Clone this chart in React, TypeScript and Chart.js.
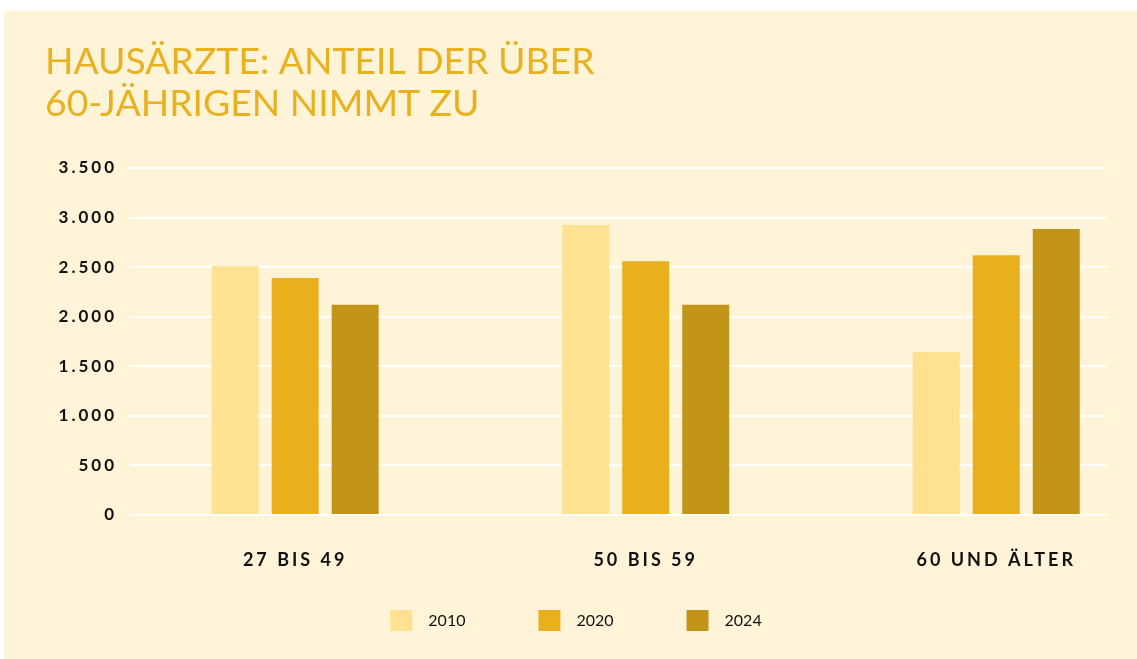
import React, { useEffect, useRef } from 'react';
import { Chart, registerables } from 'chart.js';

Chart.register(...registerables);

const titleLines = ['HAUSÄRZTE: ANTEIL DER ÜBER', '60-JÄHRIGEN NIMMT ZU'];
const categories = ['27 BIS 49', '50 BIS 59', '60 UND ÄLTER'];
const seriesLabels = ['2010', '2020', '2024'];
const values2010 = [2510, 2925, 1645];
const values2020 = [2390, 2560, 2620];
const values2024 = [2120, 2120, 2885];
const yTickMin = 0;
const yTickMax = 3500;
const yTickStep = 500;

const seriesColors = ['#FEE291', '#E8B01C', '#C29418'];
const CREAM = '#FFF3D8';
const TITLE_COLOR = '#E9B11E';
const TEXT = '#111111';

const formatDE = (v: number) => String(v).replace(/\B(?=(\d{3})+(?!\d))/g, '.');

const tickSpacing: Record<string, string> = { x: '3px', y: '3px' };

const letterSpacingPlugin = {
  id: 'tickLetterSpacing',
  beforeDraw(chart: any) {
    ['x', 'y'].forEach((id) => {
      const s: any = chart.scales[id];
      if (s && !s.__lsPatched) {
        const orig = s.drawLabels.bind(s);
        s.drawLabels = (area: any) => {
          const ctx = chart.ctx;
          ctx.save();
          ctx.letterSpacing = tickSpacing[id];
          orig(area);
          ctx.restore();
        };
        // labels sit below the (compact) axis box: don't clip them to it
        s._computeLabelArea = () => undefined;
        s.__lsPatched = true;
      }
    });
  },
};

export default function App() {
  const ref = useRef<HTMLCanvasElement | null>(null);

  useEffect(() => {
    if (!ref.current) return;
    Chart.defaults.font.family = 'Lato';
    const seriesValues = [values2010, values2020, values2024];
    const chart = new Chart(ref.current, {
      type: 'bar',
      data: {
        datasets: seriesValues.map((vals, i) => ({
          label: seriesLabels[i],
          data: vals.map((v, j) => ({ x: j, y: v })),
          backgroundColor: seriesColors[i],
          borderWidth: 0,
          categoryPercentage: 0.5136,
          barPercentage: 0.783,
        })),
      },
      options: {
        responsive: false,
        animation: false,
        events: [],
        layout: { padding: { left: 41, right: 30, top: 0, bottom: 18 } },
        plugins: {
          title: {
            display: true,
            text: titleLines,
            align: 'start',
            color: TITLE_COLOR,
            font: { family: 'Lato', size: 37.3, weight: 'normal', lineHeight: 42 / 37.3 },
            padding: { top: 30, bottom: 43 },
          },
          legend: {
            display: true,
            position: 'bottom',
            align: 'center',
            labels: {
              boxWidth: 22,
              boxHeight: 21,
              padding: 73,
              color: TEXT,
              font: { family: 'Lato', size: 16, weight: 'normal' },
              generateLabels: (c: any) =>
                (Chart.defaults.plugins.legend.labels as any)
                  .generateLabels(c)
                  .map((l: any) => ({ ...l, text: '\u2002' + l.text, lineWidth: 0 })),
            },
          },
          tooltip: { enabled: false },
        },
        scales: {
          x: {
            type: 'linear',
            offset: false,
            bounds: 'data',
            min: -0.4713,
            max: 2.316,
            afterBuildTicks: (s: any) => {
              s.ticks = categories.map((_, i) => ({ value: i }));
            },
            afterFit: (s: any) => {
              s.height = 22;
            },
            grid: { display: false },
            border: { display: false },
            ticks: {
              autoSkip: false,
              maxRotation: 0,
              padding: 26,
              color: TEXT,
              font: { family: 'Lato', size: 18, weight: 'bold' },
              callback: (v: any) => categories[Math.round(Number(v))] ?? '',
            },
          },
          y: {
            min: yTickMin,
            max: yTickMax,
            afterFit: (s: any) => {
              s.width = 85;
            },
            grid: { color: '#FFFFFF', lineWidth: 2, drawTicks: false },
            border: { display: false },
            ticks: {
              stepSize: yTickStep,
              padding: 13,
              color: TEXT,
              font: { family: 'Lato', size: 17, weight: 'bold' },
              callback: (v: any) => formatDE(Number(v)),
            },
          },
        },
      } as any,
      plugins: [letterSpacingPlugin],
    });
    return () => chart.destroy();
  }, []);

  return (
    <div style={{ position: 'fixed', left: 0, top: 0, width: 1137, height: 659, background: '#FFFFFF' }}>
      <div style={{ position: 'absolute', left: 4, top: 11, width: 1133, height: 648, background: CREAM }}>
        <canvas ref={ref} width={1133} height={648} style={{ display: 'block', width: 1133, height: 648 }} />
      </div>
    </div>
  );
}
